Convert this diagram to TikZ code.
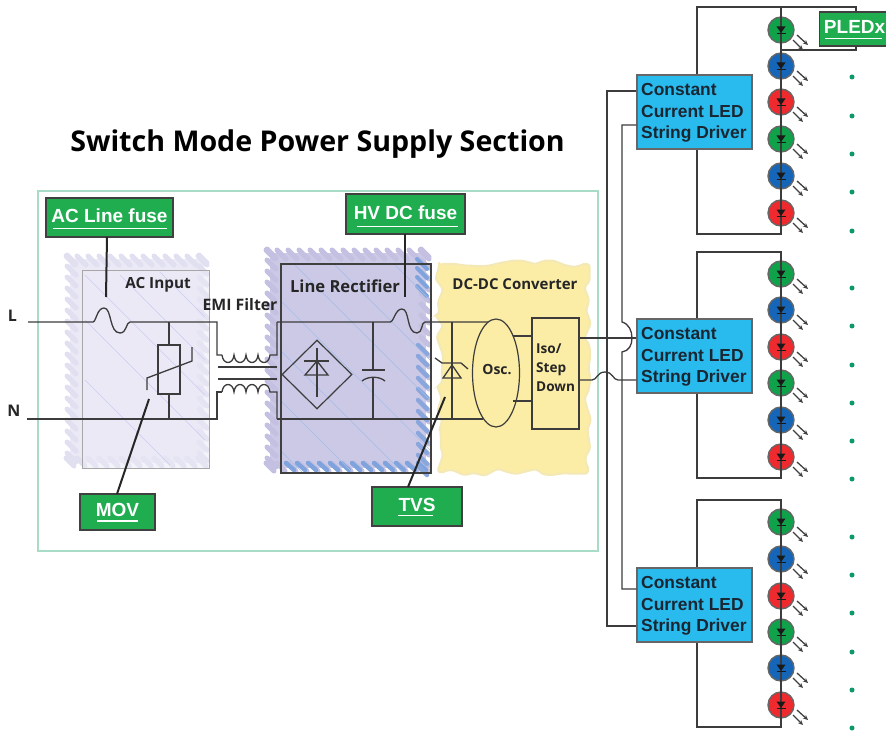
\documentclass[tikz,border=0pt]{standalone}
\usepackage{fontspec}
\setmainfont{Liberation Sans}
\newfontfamily\opensans{Open Sans}
\usetikzlibrary{shapes.geometric,decorations.pathmorphing,arrows.meta,calc}
\definecolor{wirec}{HTML}{3C3C3C}
\definecolor{labgreen}{HTML}{1FAD50}
\definecolor{drvblue}{HTML}{29BBEE}
\definecolor{frameg}{HTML}{A9DCC6}
\definecolor{acfill}{HTML}{EAE9F5}
\definecolor{achatch}{HTML}{E1E0F1}
\definecolor{recfill}{HTML}{CCC9E6}
\definecolor{rechatch}{HTML}{C3C0E2}
\definecolor{recblue}{HTML}{7FA3DC}
\definecolor{yel}{HTML}{FBEDA6}
\definecolor{yelglow}{HTML}{F4E9B6}
\definecolor{ledg}{HTML}{0FA24A}
\definecolor{ledb}{HTML}{1565B8}
\definecolor{ledr}{HTML}{EE2A2E}
\definecolor{dotg}{HTML}{0E9A68}
\definecolor{txtdark}{HTML}{1A2632}
\tikzset{
  wire/.style={draw=wirec,line width=1.3pt},
  leader/.style={draw=black!85,line width=2pt},
  labelbox/.style={draw=black!75,line width=1.2pt,fill=labgreen,text=white,font=\bfseries\fontsize{19}{22}\selectfont,inner sep=0pt,minimum height=38pt},
  driverbox/.style={draw=black!60,line width=1.2pt,fill=drvblue,minimum width=115pt,minimum height=74pt,inner sep=0pt},
  drivertext/.style={text=txtdark,font=\bfseries\fontsize{17.4}{21.7}\selectfont,align=left,anchor=west,inner sep=0pt},
  blockname/.style={font=\opensans\bfseries\fontsize{#1}{#1}\selectfont,text=black!85,inner sep=0pt},
  ledc/.style={circle,draw=black!60,line width=1.4pt,fill=#1,minimum size=26pt,inner sep=0pt},
  ulbar/.style={draw=white,line width=1.8pt},
  dotn/.style={circle,fill=dotg,minimum size=5pt,inner sep=0pt}
}
% hatch-edged region
\newcommand{\hatchreg}[6]{%
  \fill[#6] (#1,#2) rectangle (#3,#4);
  \pgfmathsetmacro{\xa}{#1}\pgfmathsetmacro{\xb}{#3}\pgfmathsetmacro{\ya}{#2}\pgfmathsetmacro{\yb}{#4}%
  \pgfmathsetmacro{\nx}{int((\xb-\xa)/11)}\pgfmathsetmacro{\ny}{int((\yb-\ya)/11)}%
  \foreach \k in {0,...,\nx}{%
    \draw[#5,line width=5pt,line cap=round] ({\xa+11*\k-4},{\ya-3}) -- ({\xa+11*\k+5},{\ya+6});
    \draw[#5,line width=5pt,line cap=round] ({\xa+11*\k-4},{\yb-5}) -- ({\xa+11*\k+4},{\yb+3});
  }%
  \foreach \k in {0,...,\ny}{%
    \draw[#5,line width=5pt,line cap=round] ({\xa-3},{\ya+11*\k-4}) -- ({\xa+6},{\ya+11*\k+5});
    \draw[#5,line width=5pt,line cap=round] ({\xb-5},{\ya+11*\k-4}) -- ({\xb+3},{\ya+11*\k+4});
  }%
}
% one LED: id, y, colour
\newcommand{\ledat}[3]{%
  \node[ledc=#3] (#1) at (781,#2) {};
  \draw[wirec,line width=1.3pt] ($(#1)+(0,-14)$) -- ($(#1)+(0,14)$);
  \fill[black!90] ($(#1)+(-4.5,-3.5)$) -- ($(#1)+(4.5,-3.5)$) -- ($(#1)+(0,3)$) -- cycle;
  \draw[black!90,line width=1.6pt] ($(#1)+(-4.5,3.5)$) -- ($(#1)+(4.5,3.5)$);
  \draw[black!75,line width=1.3pt,-{Stealth[length=5pt,width=4.5pt]}] ($(#1)+(16,5)$) -- ($(#1)+(27,15)$);
  \draw[black!75,line width=1.3pt,-{Stealth[length=5pt,width=4.5pt]}] ($(#1)+(12,10)$) -- ($(#1)+(22,20)$);
}
% string: id, driver centre y, top y, bottom y, five led ys
\newcommand{\ledstring}[9]{%
  \node[driverbox] (d#1) at (694.5,#2) {};
  \node[drivertext] (dt#1) at (641,#2+1) {Constant\\Current LED\\String Driver};
  \coordinate (t#1) at (697,#3); \coordinate (u#1) at (781,#3);
  \coordinate (b#1) at (697,#4); \coordinate (v#1) at (781,#4);
  \draw[wire] (t#1 |- d#1.north) -- (t#1) -- (u#1) -- (v#1) -- (b#1) -- (b#1 |- d#1.south);
  \ledat{l#1a}{#5}{ledg}\ledat{l#1b}{#6}{ledb}\ledat{l#1c}{#7}{ledr}\ledat{l#1d}{#8}{ledg}\ledat{l#1e}{#9}{ledb}%
}
\begin{document}
\begin{tikzpicture}[x=1pt,y=-1pt]
\useasboundingbox (0,0) rectangle (886,733);
\clip (0,0) rectangle (886,733);
% title
\node[blockname=28.6,text=black] (title) at (317.5,144) {Switch Mode Power Supply Section};
% frame
\draw[frameg,line width=1.6pt] (38,191) rectangle (598,551);
% AC region
\hatchreg{70}{259}{204}{463}{achatch}{acfill}
\draw[blue!25!achatch,line width=.6pt] (85,275) -- (205,395) (85,320) -- (205,440) (120,275) -- (205,360) (85,380) -- (170,465) (160,272) -- (205,317);
\node[draw=black!35,line width=1pt,fill=acfill,fill opacity=.55,minimum width=127pt,minimum height=198pt,inner sep=0pt] (acbox) at (145.5,369) {};
% rectifier region
\hatchreg{270}{253}{426}{468}{rechatch}{recfill}
\foreach \k in {0,...,12}{\draw[recblue,line width=4.5pt,line cap=round] ({286+11*\k},463) -- ({294+11*\k},470);}
\foreach \k in {0,...,11}{\draw[recblue!85!rechatch,line width=4.5pt,line cap=round] (418,{345+11*\k}) -- (427,{354+11*\k});}
\foreach \k in {0,...,3}{\draw[recblue,line width=4pt,line cap=round] (417,{259+9*\k}) -- (427,{269+9*\k});}
\fill[recfill] (284,267) rectangle (412,458);
\begin{scope}
\clip (282,265) rectangle (430,472);
\foreach \o in {-20,30,80,130,180,230}{\draw[recblue!70,line width=.7pt] (270,{260+\o}) -- (470,{460+\o});}
\foreach \o in {60,120}{\draw[recblue!70,line width=.7pt] ({270+\o},260) -- ({470+\o},460);}
\end{scope}
\node[draw=black!75,line width=1.4pt,minimum width=150pt,minimum height=209pt,inner sep=0pt] (recbox) at (356,368.5) {};
% DC-DC region
\pgfmathsetseed{11}
\fill[yel,draw=yelglow,line width=2pt,rounded corners=3pt,decorate,decoration={random steps,segment length=10pt,amplitude=4.5pt}] (439,264) -- (588,264) -- (588,472) -- (439,472) -- cycle;
% block names
\node[blockname=15.3] (acname) at (158,284.5) {AC Input};
\node[blockname=15.8] (emi) at (240,305) {EMI Filter};
\node[blockname=16.6] (recname) at (345,286) {Line Rectifier};
\node[blockname=15] (dcname) at (515,284) {DC-DC Converter};
\node[blockname=16] (Ln) at (12.5,316) {L};
\node[blockname=16] (Nn) at (14,411) {N};
% main wiring
\coordinate (ls) at (28,322); \coordinate (ns) at (27,419);
\coordinate (fa) at (93,322); \coordinate (fb) at (130,322);
\coordinate (c1a) at (217,322); \coordinate (c1b) at (217,355);
\coordinate (c2b) at (217,392); \coordinate (n2) at (217,419);
\coordinate (hfa) at (390,322); \coordinate (hfb) at (425,322);
\draw[wire] (ls) -- (fa) .. controls (96,322) and (97,308) .. (104,308) .. controls (112,308) and (109,333) .. (120,333) .. controls (127,333) and (126,322) .. (fb) -- (c1a) -- (c1b) -- (222,355);
\draw[wire] (ns) -- (n2) -- (c2b) -- (222,392);
% inductors
\draw[wire] (222,355) \foreach \k in {0,...,3}{ .. controls ({222+12*\k+1},365) and ({222+12*\k+11},365) .. ({222+12*(\k+1)},355)} -- (277,355) -- (277,322);
\draw[wire] (222,392) \foreach \k in {0,...,3}{ .. controls ({222+12*\k+1},382) and ({222+12*\k+11},382) .. ({222+12*(\k+1)},392)} -- (277,392) -- (277,419);
\draw[wirec,line width=1.7pt] (218,367) -- (277,367) (218,379) -- (277,379);
% MOV
\node[draw=wirec,line width=1.1pt,minimum width=22pt,minimum height=49pt,inner sep=0pt] (mov) at (169,369.5) {};
\draw[wire] (169,322) -- (mov.north) (mov.south) -- (169,419);
\draw[wire] (147,390) -- (147,378) -- (192,361) -- (192,347);
% rectifier bus and diamond
\draw[wire] (277,322) -- (hfa) .. controls (394,322) and (395,309) .. (402,309) .. controls (410,309) and (406,333) .. (417,333) .. controls (423,333) and (421,322) .. (hfb) -- (490,322);
\draw[wire] (277,419) -- (483,419);
\node[diamond,draw=wirec,line width=1.2pt,minimum width=70pt,minimum height=69pt,inner sep=0pt] (bridge) at (317,374.5) {};
\draw[wire] (317,348) -- (317,397);
\draw[wire] (304,361) -- (329,361);
\draw[wire] (317,361) -- (305,375) -- (328,375) -- cycle;
% capacitor
\draw[wire] (373,322) -- (373,370) (362,370) -- (385,370);
\draw[wire] (362,381) .. controls (368,376) and (379,376) .. (385,381);
\draw[wire] (373,377) -- (373,419);
% TVS
\draw[wire] (452,322) -- (452,419);
\draw[wire] (452,365) -- (443,378) -- (461,378) -- cycle;
\draw[wire] (435,358) -- (442,363) -- (461,363) -- (468,369);
% oscillator and iso
\node[ellipse,draw=wirec,line width=1.2pt,fill=yel,minimum width=47pt,minimum height=108pt,inner sep=0pt] (osc) at (496,373) {};
\node[font=\opensans\bfseries\fontsize{14}{14}\selectfont,text=black!85,inner sep=0pt] (osct) at (497,370) {Osc.};
\node[draw=wirec,line width=1.2pt,fill=yel,minimum width=47pt,minimum height=111pt,inner sep=0pt] (iso) at (555.5,373.5) {};
\coordinate (osc1) at (513,336); \coordinate (osc2) at (513,401);
\draw[wire] (osc1) -- (osc1 -| iso.west) (osc2) -- (osc2 -| iso.west);
\node[font=\opensans\bfseries\fontsize{13.6}{19}\selectfont,text=black!85,align=left,inner sep=0pt,anchor=west] (isot) at (536,368) {Iso/\\Step\\Down};
% drivers and strings
\ledstring{1}{112}{7}{234}{30}{66}{102}{139}{176}
\ledat{l1f}{213}{ledr}
\ledstring{2}{356}{252}{478}{274}{310}{347}{383}{420}
\ledat{l2f}{457}{ledr}
\ledstring{3}{605}{500}{727}{522}{559}{596}{632}{668}
\ledat{l3f}{705}{ledr}
% supply rails
\coordinate (r1a) at (607,91); \coordinate (r1b) at (622,125);
\coordinate (r3a) at (607,626); \coordinate (r3b) at (622,589);
\draw[wire] (d1.west |- r1a) -- (r1a) -- (r3a) -- (d3.west |- r3a);
\draw[wire] (d1.west |- r1b) -- (r1b) -- (622,322) .. controls (629,324) and (632,331) .. (632,338) .. controls (632,345) and (629,351) .. (622,352) -- (r3b) -- (d3.west |- r3b);
\coordinate (o1) at (579,338); \coordinate (o2) at (579,380);
\draw[wire] (o1) -- (d2.west |- o1);
\draw[wire] (o2) -- (592,380) .. controls (597,380) and (597,372) .. (605,372) .. controls (613,372) and (613,380) .. (618,380) -- (d2.west |- o2);
% dots
\foreach \y [count=\i] in {77,116,154,192,231,288,326,365,403,441,479,537,575,613,652,690,728}{\node[dotn] (dot\i) at (852,\y) {};}
% labels
\node[labelbox,minimum width=127pt,minimum height=39pt] (lacf) at (109.5,217.5) {\raisebox{3.5pt}{AC Line fuse}};
\draw[ulbar] (53,228.5) -- (167,228.5);
\node[labelbox,minimum width=119pt,minimum height=40pt] (lhv) at (405.5,214) {\raisebox{3.5pt}{HV DC fuse}};
\draw[ulbar] (357,226.5) -- (458,226.5);
\node[labelbox,minimum width=75pt,minimum height=36pt] (lmov) at (117.5,512) {\raisebox{3.5pt}{MOV}};
\draw[ulbar] (97,521) -- (138,521);
\node[labelbox,minimum width=90pt,minimum height=39pt] (ltvs) at (417,506.5) {\raisebox{3.5pt}{TVS}};
\draw[ulbar] (398,515.5) -- (433,515.5);
\node[labelbox,minimum width=70pt,minimum height=34pt,anchor=west] (lpled) at (819,29) {\raisebox{3.5pt}{PLEDx}};
\draw[ulbar] (825,38.5) -- (882,38.5);
% leaders
\coordinate (ll1) at (106,297); \coordinate (ll2) at (149,399); \coordinate (ll3) at (405,297); \coordinate (ll4) at (445,397);
\draw[leader] (107,237) -- (ll1);
\draw[leader] (117,494) -- (ll2);
\draw[leader] (405,234) -- (ll3);
\draw[leader] (408,487) -- (ll4);
% PLEDx bracket
\coordinate (pa) at (856,7); \coordinate (pb) at (856,50); \coordinate (pc) at (781,50);
\draw[wire] (u1) -- (pa) -- (pa |- lpled.north);
\draw[wire] (pa |- lpled.south) -- (pb) -- (pc);
\end{tikzpicture}
\end{document}
